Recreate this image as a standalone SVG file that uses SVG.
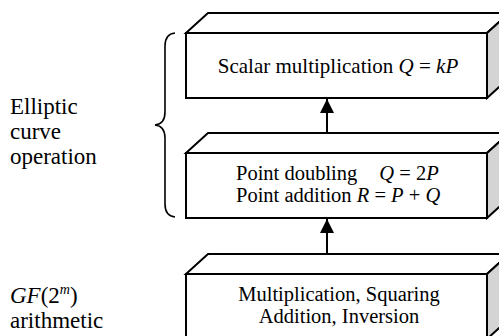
<svg xmlns="http://www.w3.org/2000/svg" width="499" height="336" viewBox="0 0 499 336">
  <style>
    .front { fill: #ffffff; stroke: #000; stroke-width: 2; stroke-linejoin: miter; }
    .top { fill: #ffffff; stroke: #000; stroke-width: 2; stroke-linejoin: miter; }
    .side { fill: #d4d4d4; stroke: #000; stroke-width: 2; stroke-linejoin: miter; }
    .conn { stroke: #000; stroke-width: 2; fill: none; }
    .brace { stroke: #000; stroke-width: 1.6; fill: none; }
  </style>
  <defs>
    <marker id="head" viewBox="0 0 14 14" refX="14" refY="7" markerWidth="14" markerHeight="14" markerUnits="userSpaceOnUse" orient="auto">
      <path d="M0,0 L14,7 L0,14 Z" fill="#000"/>
    </marker>
  </defs>

  <rect width="499" height="336" fill="#fff"/>

  <!-- side labels -->
  <g id="label-ec" font-family="Liberation Serif, serif" font-size="23" fill="#000">
    <text x="10" y="114">Elliptic</text>
    <text x="10" y="139">curve</text>
    <text x="10" y="164">operation</text>
  </g>
  <g id="label-gf" font-family="Liberation Serif, serif" font-size="23" fill="#000">
    <text x="10" y="303"><tspan font-style="oblique">GF</tspan>(2<tspan font-style="oblique" font-size="14" dy="-9">m</tspan><tspan dy="9">)</tspan></text>
    <text x="10" y="328">arithmetic</text>
  </g>

  <!-- brace grouping the two curve-level blocks -->
  <g id="brace">
    <path class="brace" d="M175,33 Q165,34 165,46 L165,112 Q165,124 155,125 Q165,126 165,138 L165,204 Q165,216 175,217"/>
  </g>

  <!-- connectors -->
  <g id="connectors">
    <line class="conn" x1="327" y1="133" x2="327" y2="99" marker-end="url(#head)"/>
    <line class="conn" x1="327" y1="253" x2="327" y2="219" marker-end="url(#head)"/>
  </g>

  <!-- top block: scalar multiplication -->
  <g id="node-scalar" font-family="Liberation Serif, serif" font-size="21" fill="#000">
    <polygon class="top" points="186,33 208,13 509,13 487,33"/>
    <polygon class="side" points="487,33 509,13 509,78 487,98"/>
    <rect class="front" x="186" y="33" width="301" height="65"/>
    <text x="338" y="73" text-anchor="middle">Scalar multiplication <tspan font-style="oblique">Q</tspan> = <tspan font-style="oblique">kP</tspan></text>
  </g>

  <!-- middle block: point operations -->
  <g id="node-point" font-family="Liberation Serif, serif" font-size="20.5" fill="#000">
    <polygon class="top" points="186,153 208,133 509,133 487,153"/>
    <polygon class="side" points="487,153 509,133 509,198 487,218"/>
    <rect class="front" x="186" y="153" width="301" height="65"/>
    <text x="236" y="180">Point doubling<tspan font-style="oblique" dx="22">Q</tspan> = 2<tspan font-style="oblique">P</tspan></text>
    <text x="236" y="202">Point addition <tspan font-style="oblique">R</tspan> = <tspan font-style="oblique">P</tspan> + <tspan font-style="oblique">Q</tspan></text>
  </g>

  <!-- bottom block: field arithmetic -->
  <g id="node-field" font-family="Liberation Serif, serif" font-size="20.5" fill="#000">
    <polygon class="top" points="186,274 208,254 509,254 487,274"/>
    <polygon class="side" points="487,274 509,254 509,319 487,339"/>
    <rect class="front" x="186" y="274" width="301" height="65"/>
    <text x="339" y="301" text-anchor="middle">Multiplication, Squaring</text>
    <text x="339" y="323" text-anchor="middle">Addition, Inversion</text>
  </g>
</svg>
